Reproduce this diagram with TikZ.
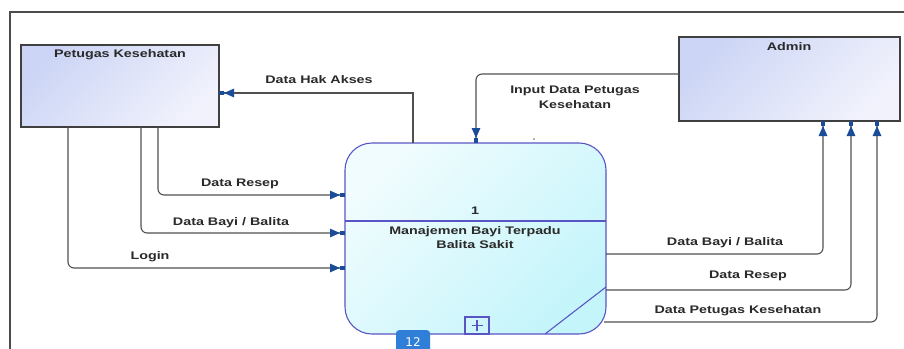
\documentclass[tikz,border=0pt]{standalone}
\usepackage{fontspec}
\usetikzlibrary{arrows.meta,calc}
\newfontfamily\dfdfont{Liberation Sans}[FakeStretch=1.3]
\newfontfamily\badgefont{DejaVu Sans}
\definecolor{linegray}{HTML}{505050}
\definecolor{tipblue}{HTML}{1A4C98}
\definecolor{procline}{HTML}{5A55C4}
\definecolor{boxA}{HTML}{CCD5F5}
\definecolor{boxB}{HTML}{F1F2FC}
\definecolor{procA}{HTML}{F0FCFE}
\definecolor{procB}{HTML}{C4F5FB}
\definecolor{txt}{HTML}{2A2A2A}
\definecolor{badge}{HTML}{2F7ED8}
\tikzset{
  ext/.style={draw=black!75, line width=1.3pt, top color=boxA, bottom color=boxB, shading angle=45, inner sep=0pt, outer sep=0pt},
  procbox/.style={draw=procline, line width=1.1pt, rounded corners=27pt, top color=procA, bottom color=procB, shading angle=45, inner sep=0pt, outer sep=0pt},
  flow/.style={draw=linegray, line width=1.1pt, -{Triangle[length=10pt,width=8.5pt,color=tipblue] Rectangle[length=5pt,width=3.5pt,color=tipblue]}},
  lbl/.style={font=\dfdfont\bfseries\fontsize{11}{13}\selectfont, text=txt, inner sep=0pt, align=center},
}
\begin{document}
\begin{tikzpicture}[x=1pt,y=-1pt]
\useasboundingbox (0,0) rectangle (904,348);
\fill[white] (0,0) rectangle (904,348);
% frame
\draw[black!70, line width=1.4pt] (10,350) -- (10,12) -- (906,12);
% external entities
\node[ext, minimum width=198pt, minimum height=82pt] (pk) at (120,86) {};
\node[lbl] (pkt) at (120,55) {Petugas Kesehatan};
\node[ext, minimum width=221pt, minimum height=84pt] (admin) at (789.5,79) {};
\node[lbl] (admint) at (789,47) {Admin};
% process
\node[procbox, minimum width=261pt, minimum height=191pt] (proc) at (475.5,238.5) {};
\draw[procline, line width=1.1pt] (proc.west |- 0,221) -- (proc.east |- 0,221);
\draw[procline, line width=1.1pt] (proc.south -| 545,0) -- (proc.east |- 0,287);
\draw[procline, line width=1.1pt] (465,334) rectangle (489,317);
\draw[procline, line width=1.1pt] (477,320) -- (477,331) (471.5,325.5) -- (482.5,325.5);
\node[lbl] (pnum) at (475,211) {1};
\node[lbl] (pname) at (475,238) {Manajemen Bayi Terpadu\\[1pt]Balita Sakit};
\fill[black!60] (534,139) circle (0.9);
% connectors
\draw[flow] (proc.north -| 413,0) |- (pk.east |- 0,93);
\node[lbl] (l1) at (319,80) {Data Hak Akses};
\draw[flow, rounded corners=6pt] (admin.west |- 0,74) -| (proc.north -| 476,0);
\node[lbl] (l2) at (575,97) {Input Data Petugas\\[2pt]Kesehatan};
\draw[flow, rounded corners=6pt] (pk.south -| 158,0) |- (proc.west |- 0,195);
\node[lbl] (l3) at (240,184) {Data Resep};
\draw[flow, rounded corners=6pt] (pk.south -| 141,0) |- (proc.west |- 0,233);
\node[lbl] (l4) at (231,223) {Data Bayi / Balita};
\draw[flow, rounded corners=6pt] (pk.south -| 68,0) |- (proc.west |- 0,268);
\node[lbl] (l5) at (150,257) {Login};
\draw[flow, rounded corners=6pt] (proc.east |- 0,254) -| (admin.south -| 823,0);
\node[lbl] (l6) at (725,243) {Data Bayi / Balita};
\draw[flow, rounded corners=6pt] (proc.east |- 0,290) -| (admin.south -| 851,0);
\node[lbl] (l7) at (748,276) {Data Resep};
\draw[flow, rounded corners=6pt] (604,322) -| (admin.south -| 877,0);
\node[lbl] (l8) at (738,311) {Data Petugas Kesehatan};
% badge
\node[fill=badge, rounded corners=3pt, minimum width=34pt, minimum height=24pt, inner sep=0pt, anchor=north] (badge) at (413,330) {};
\node[text=white, font=\badgefont\fontsize{12}{14}\selectfont, inner sep=0pt] (badget) at (413,342) {12};
\end{tikzpicture}
\end{document}
